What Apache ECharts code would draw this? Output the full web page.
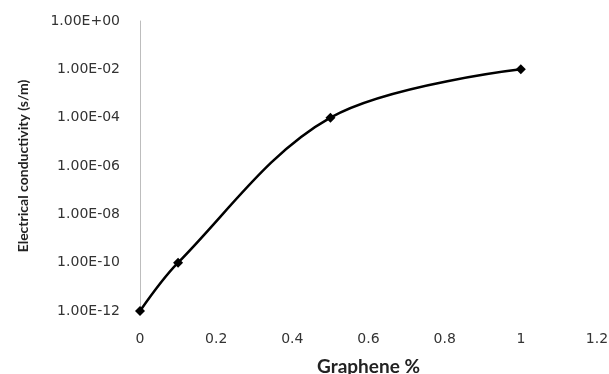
<!DOCTYPE html>
<html>
<head>
<meta charset="utf-8">
<script src="https://cdn.jsdelivr.net/npm/echarts@6/dist/echarts.min.js"></script>
<style>
  html, body { margin: 0; padding: 0; background: #fff; }
  #chart { width: 609px; height: 374px; }
</style>
</head>
<body>
<div id="chart"></div>
<script>
// graphene loading (%) vs. electrical conductivity (s/m)
var graphene = [0, 0.1, 0.5, 1]
var conductivity = [1e-12, 1e-10, 1e-4, 1e-2]

var points = []
for (var i = 0; i < graphene.length; i++) {
  points.push([graphene[i], conductivity[i]])
}

function sciLabel(v) {
  var e = Math.round(Math.log10(v))
  var sign = e < 0 ? '-' : '+'
  var abs = Math.abs(e)
  return '1.00E' + sign + (abs < 10 ? '0' + abs : abs)
}

var chart = echarts.init(document.getElementById('chart'))
chart.setOption({
  animation: false,
  textStyle: { fontFamily: '"DejaVu Sans", sans-serif' },
  grid: { left: 140, right: 12, top: 21, bottom: 63, containLabel: false, outerBoundsMode: 'none' },
  xAxis: {
    type: 'value',
    min: 0,
    max: 1.2,
    interval: 0.2,
    name: 'Graphene %',
    nameLocation: 'middle',
    nameGap: 46,
    nameTextStyle: { fontFamily: 'Lato, sans-serif', fontSize: 19, fontWeight: 'bold', color: '#222' },
    axisLine: { show: false },
    axisTick: { show: false },
    splitLine: { show: false },
    axisLabel: {
      color: '#333',
      fontSize: 14,
      margin: 21,
      formatter: function(v) { return String(Math.round(v * 10) / 10) }
    }
  },
  yAxis: {
    type: 'log',
    logBase: 100,
    min: 1e-12,
    max: 1,
    name: 'Electrical conductivity (s/m)',
    nameLocation: 'middle',
    nameGap: 110,
    nameRotate: 90,
    nameTextStyle: { fontFamily: 'Lato, sans-serif', fontSize: 14, fontWeight: 'bold', color: '#222' },
    axisLine: { show: true, lineStyle: { color: '#bdbdbd', width: 1 } },
    axisTick: { show: false },
    splitLine: { show: false },
    minorTick: { show: false },
    axisLabel: {
      color: '#333',
      fontSize: 14,
      margin: 20,
      formatter: sciLabel
    }
  },
  series: [{
    type: 'line',
    data: points,
    smooth: 0.35,
    symbol: 'diamond',
    symbolSize: 10,
    lineStyle: { color: '#000', width: 2.5 },
    itemStyle: { color: '#000' }
  }]
})
</script>
</body>
</html>
